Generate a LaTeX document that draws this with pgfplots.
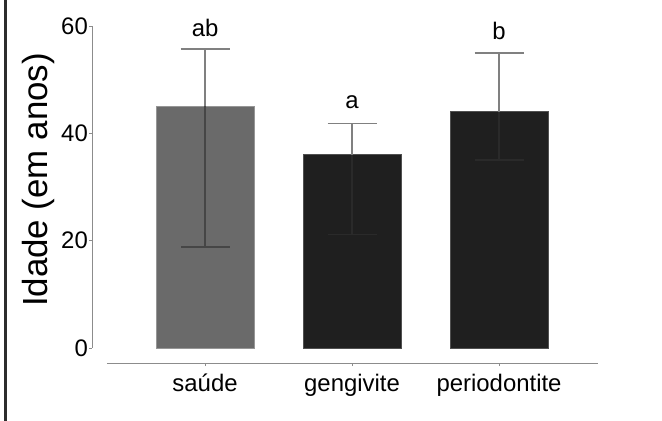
\documentclass[border=0pt]{standalone}
\usepackage{fontspec}
\setmainfont{Liberation Sans}
\usepackage{pgfplots}
\pgfplotsset{compat=1.18}
\usepackage{pgfplotstable}

\definecolor{barlight}{RGB}{106,106,106}
\definecolor{bardark}{RGB}{31,31,31}
\definecolor{axisgray}{RGB}{140,140,140}
\definecolor{errgray}{RGB}{128,128,128}
\definecolor{errinlight}{RGB}{70,70,70}
\definecolor{errindark}{RGB}{42,42,42}
\definecolor{frameline}{RGB}{45,45,45}

% mean, upper and lower error
\pgfplotstableread{
x y ep em
0 45 10.7 26.2
}\saude
\pgfplotstableread{
x y ep em
1 36 5.8 14.9
}\gengivite
\pgfplotstableread{
x y ep em
2 44 11.0 9.0
}\periodontite

\pgfplotsset{
  errup/.style={
    error bars/.cd, y dir=plus, y explicit,
    error bar style={line width=1.5bp, errgray},
    error mark options={rotate=90, mark size=24.5bp, line width=1.5bp, errgray}},
  errdown/.style={
    draw=none, mark=none, forget plot,
    error bars/.cd, y dir=minus, y explicit,
    error bar style={line width=1.5bp, #1},
    error mark options={rotate=90, mark size=24.5bp, line width=1.5bp, #1}},
}

\begin{document}
\begin{tikzpicture}
\useasboundingbox (0,0) rectangle (662bp,421bp);
\draw[line width=2.5bp, frameline] (5.5bp,0) -- (5.5bp,421bp);
\begin{axis}[
    at={(92bp,58bp)}, anchor=south west,
    scale only axis, width=506bp, height=337bp,
    xmin=-0.769, xmax=2.673, ymin=-2.8, ymax=60,
    axis lines*=left,
    axis line style={draw=none},
    tick align=outside,
    major tick length=3bp,
    every tick/.style={axisgray, line width=0.8bp},
    xtick={0,1,2},
    xticklabels={saúde, gengivite, periodontite},
    ytick={0,20,40,60},
    /pgf/number format/assume math mode=true,
    tick label style={font=\fontsize{24}{28}\selectfont},
    yticklabel style={inner sep=1bp},
    xticklabel style={inner sep=2bp, yshift=-6bp},
    clip=false,
  ]
  \addplot[ybar, bar width=98bp, bar shift=0pt, fill=barlight,
    draw={rgb,255:red,150;green,150;blue,150}, line width=0.8bp, errup]
    table[x=x, y=y, y error plus=ep, y error minus=em] {\saude};
  \addplot[ybar, bar width=98bp, bar shift=0pt, fill=bardark,
    draw={rgb,255:red,80;green,80;blue,80}, line width=0.8bp, errup]
    table[x=x, y=y, y error plus=ep, y error minus=em] {\gengivite};
  \addplot[ybar, bar width=98bp, bar shift=0pt, fill=bardark,
    draw={rgb,255:red,80;green,80;blue,80}, line width=0.8bp, errup]
    table[x=x, y=y, y error plus=ep, y error minus=em] {\periodontite};

  % lower halves of the error bars, seen through the bars
  \addplot[errdown=errinlight] table[x=x, y=y, y error plus=ep, y error minus=em] {\saude};
  \addplot[errdown=errindark] table[x=x, y=y, y error plus=ep, y error minus=em] {\gengivite};
  \addplot[errdown=errindark] table[x=x, y=y, y error plus=ep, y error minus=em] {\periodontite};

  \draw[axisgray, line width=1bp] (axis cs:-0.769,0) -- (axis cs:-0.769,60);
  \draw[axisgray, line width=1bp] (axis cs:-0.667,-2.8) -- (axis cs:2.673,-2.8);

  \node[anchor=base, inner sep=0pt, font=\fontsize{24}{28}\selectfont] at (axis cs:0,58.1) {ab};
  \node[anchor=base, inner sep=0pt, font=\fontsize{24}{28}\selectfont] at (axis cs:1,44.7) {a};
  \node[anchor=base, inner sep=0pt, font=\fontsize{24}{28}\selectfont] at (axis cs:2,57.4) {b};
\end{axis}
\node[anchor=base, rotate=90, inner sep=0pt, font=\fontsize{35}{40}\selectfont] at (47bp,241bp) {Idade (em anos)};
\end{tikzpicture}
\end{document}
